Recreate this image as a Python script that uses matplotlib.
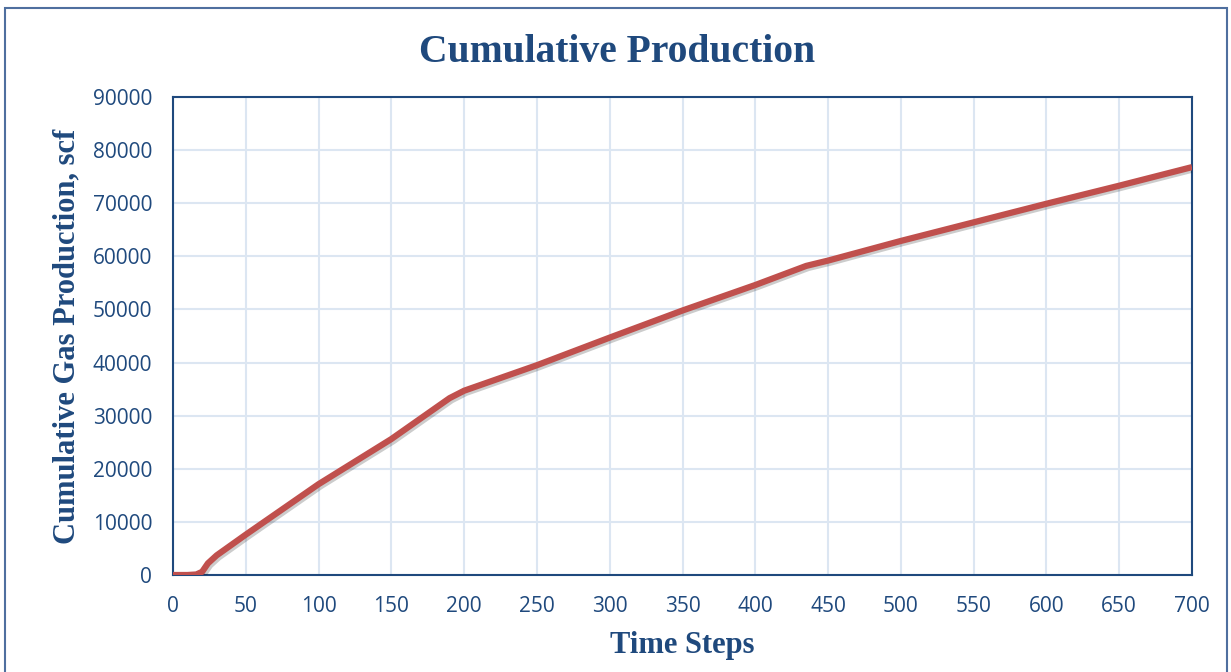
import matplotlib
matplotlib.use("Agg")
import matplotlib.pyplot as plt
import matplotlib.patheffects as pe
from matplotlib.patches import Rectangle

# data
time_steps = [0, 10, 16, 20, 24, 30, 50, 100, 150, 190, 200, 250, 300, 350,
              400, 435, 450, 500, 550, 600, 650, 700]
cum_gas = [0, 0, 100, 600, 2200, 3700, 7600, 17100, 25600, 33300, 34700,
           39500, 44700, 49800, 54600, 58200, 59200, 62900, 66400, 69900,
           73300, 76800]

dark_blue = "#1F497D"
grid_blue = "#DCE6F2"
line_red = "#C0504D"
serif = "Liberation Serif"

fig = plt.figure(figsize=(12.31, 6.72), dpi=100)
ax = fig.add_axes([173 / 1231, 1 - 575 / 672, 1019 / 1231, 478 / 672])

ax.plot(time_steps, cum_gas, color=line_red, lw=4.5, solid_capstyle="butt",
        zorder=3,
        path_effects=[pe.SimpleLineShadow(offset=(1.5, -1.5), alpha=0.2),
                      pe.Normal()])

ax.set_xlim(0, 700)
ax.set_ylim(0, 90000)
ax.set_xticks(range(0, 701, 50))
ax.set_yticks(range(0, 90001, 10000))
ax.grid(True, color=grid_blue, lw=1.5)
ax.set_axisbelow(True)
ax.tick_params(length=0, labelsize=15, labelcolor=dark_blue, pad=15)
for lab in ax.get_xticklabels() + ax.get_yticklabels():
    lab.set_family("Open Sans")
for sp in ax.spines.values():
    sp.set_color(dark_blue)
    sp.set_linewidth(1.5)

ax.set_xlabel("Time Steps", fontsize=22, fontweight="bold", color=dark_blue,
              family=serif, labelpad=10)
ax.set_ylabel("Cumulative Gas Production, scf", fontsize=22,
              fontweight="bold", color=dark_blue, family=serif,
              labelpad=8)
fig.text(617 / 1231, 1 - 53 / 672, "Cumulative Production", fontsize=28.5,
         fontweight="bold", color=dark_blue, family=serif,
         ha="center", va="center")

# outer chart border
fig.patches.append(Rectangle((5 / 1231, -0.05), 1222 / 1231, 1.05 - 8 / 672,
                             transform=fig.transFigure, fill=False,
                             ec="#4F6F9F", lw=1.5))

fig.savefig("out.png", dpi=100)
